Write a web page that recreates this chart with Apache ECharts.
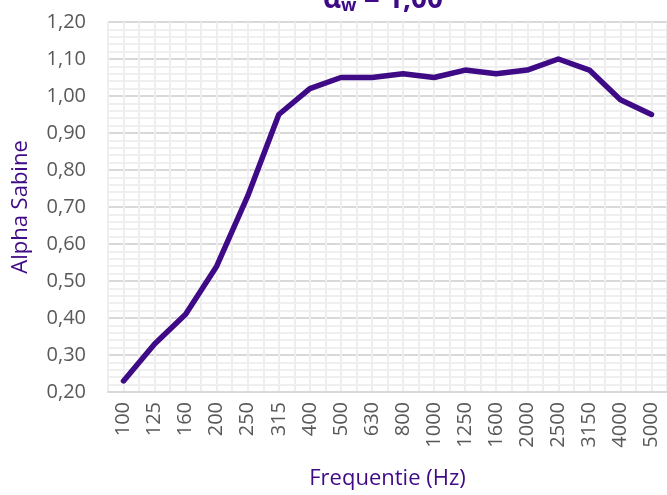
<!DOCTYPE html>
<html>
<head>
<meta charset="utf-8">
<script src="https://cdn.jsdelivr.net/npm/echarts@6/dist/echarts.min.js"></script>
<style>
  html, body { margin: 0; padding: 0; background: #fff; }
  #chart { width: 667px; height: 495px; }
</style>
</head>
<body>
<div id="chart"></div>
<script>
// frequenties (Hz) en gemeten alpha sabine
const freqs = ['100', '125', '160', '200', '250', '315', '400', '500', '630', '800',
  '1000', '1250', '1600', '2000', '2500', '3150', '4000', '5000'];
const alpha = [0.23, 0.33, 0.41, 0.54, 0.73, 0.95, 1.02, 1.05, 1.05, 1.06,
  1.05, 1.07, 1.06, 1.07, 1.10, 1.07, 0.99, 0.95];
const yTicks = [0.2, 1.2, 0.1];

const purple = '#3f0a86';
const font = '"Open Sans", "Noto Sans", sans-serif';

const chart = echarts.init(document.getElementById('chart'));
chart.setOption({
  animation: false,
  title: {
    text: '{a|α}{w|w}{a| = 1,00}',
    left: 318,
    top: -20,
    textStyle: {
      rich: {
        a: { fontSize: 28, fontWeight: 'bold', color: purple, fontFamily: font },
        w: { fontSize: 18, fontWeight: 'bold', color: purple, fontFamily: font, verticalAlign: 'bottom', padding: [12, 0, 0, 0] }
      }
    }
  },
  grid: { left: 108, right: -3, top: 22, bottom: 101 },
  xAxis: [
    {
      type: 'category',
      data: freqs,
      boundaryGap: true,
      name: 'Frequentie (Hz)',
      nameLocation: 'middle',
      nameGap: 76,
      nameTextStyle: { color: purple, fontSize: 22, fontFamily: font },
      axisLine: { lineStyle: { color: '#d9d9d9', width: 2 } },
      axisTick: { show: false },
      splitLine: { show: false },
      axisLabel: { rotate: 90, color: '#595959', fontSize: 20, fontFamily: font, margin: 10 }
    },
    {
      type: 'value',
      min: 0,
      max: freqs.length * 2,
      interval: 1,
      show: true,
      axisLine: { show: false },
      axisTick: { show: false },
      axisLabel: { show: false },
      splitLine: { show: true, lineStyle: { color: '#eeeeee', width: 2 } }
    }
  ],
  yAxis: {
    type: 'value',
    min: yTicks[0],
    max: yTicks[1],
    interval: yTicks[2],
    name: 'Alpha Sabine',
    nameLocation: 'middle',
    nameGap: 76,
    nameTextStyle: { color: purple, fontSize: 22, fontFamily: font },
    axisLine: { show: false },
    axisTick: { show: false },
    axisLabel: {
      color: '#595959', fontSize: 20, fontFamily: font, margin: 22,
      formatter: v => v.toFixed(2).replace('.', ',')
    },
    splitLine: { show: true, lineStyle: { color: '#d9d9d9', width: 2 } },
    minorTick: { show: false, splitNumber: 5 },
    minorSplitLine: { show: true, lineStyle: { color: '#efefef', width: 2 } }
  },
  series: [{
    type: 'line',
    data: alpha,
    xAxisIndex: 0,
    symbol: 'none',
    lineStyle: { color: purple, width: 5.5, cap: 'round', join: 'round' }
  }]
});
</script>
</body>
</html>
